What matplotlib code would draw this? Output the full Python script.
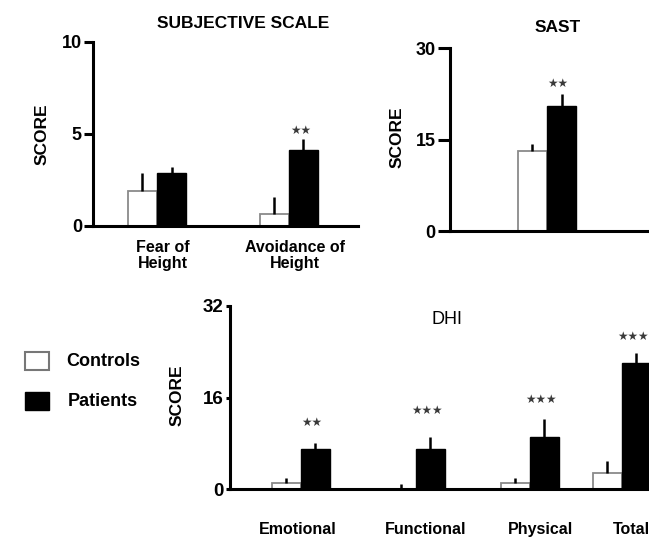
import matplotlib
matplotlib.use("Agg")
import matplotlib.pyplot as plt
from matplotlib.patches import Rectangle

plt.rcParams['font.family'] = ['Liberation Sans', 'DejaVu Sans']

# ---------------- data ----------------
subj_categories = ["Fear of\nHeight", "Avoidance of\nHeight"]
subj_controls = [1.9, 0.65]
subj_controls_err = [1.0, 0.9]
subj_patients = [2.9, 4.15]
subj_patients_err = [0.3, 0.6]
subj_stars = ["", "★★"]

sast_controls = [13.1]
sast_controls_err = [1.2]
sast_patients = [20.5]
sast_patients_err = [1.9]
sast_stars = ["★★"]

dhi_categories = ["Emotional", "Functional", "Physical", "Total"]
dhi_controls = [1.0, 0.0, 1.0, 2.8]
dhi_controls_err = [0.9, 0.9, 0.9, 2.1]
dhi_patients = [7.0, 7.0, 9.1, 22.0]
dhi_patients_err = [1.0, 2.1, 3.1, 1.8]
dhi_stars = ["★★", "★★★", "★★★", "★★★"]

# ---------------- layout ----------------
W, H = 649, 537
fig = plt.figure(figsize=(W / 100, H / 100), dpi=100)


def rect(left, right, top, bottom):
    return [left / W, 1 - bottom / H, (right - left) / W, (bottom - top) / H]


def fx(x):
    return x / W


def fy(y):
    return 1 - y / H


SPINE_W = 2.2
STAR_KW = dict(ha='center', va='center', fontsize=8.5, color='#3a3a3a',
               family=['DejaVu Sans'], clip_on=False)


def style_axes(ax, ylim, yticks, tick_len, fs=13):
    ax.set_ylim(*ylim)
    ax.set_yticks(yticks)
    ax.set_yticklabels([str(t) for t in yticks], fontsize=fs, fontweight='bold')
    for s in ['top', 'right']:
        ax.spines[s].set_visible(False)
    for s in ['left', 'bottom']:
        ax.spines[s].set_linewidth(SPINE_W)
    ax.tick_params(axis='y', direction='out', length=tick_len, width=SPINE_W, pad=1.5)
    ax.tick_params(axis='x', length=0)
    ax.patch.set_alpha(0)


def draw_bars(ax, centers, ctrl, ctrl_err, pat, pat_err, width):
    xc = [c - width / 2 for c in centers]
    xp = [c + width / 2 for c in centers]
    ax.bar(xc, ctrl, width=width, color='white', edgecolor='#8a8a8a', linewidth=1.3, zorder=2)
    ax.bar(xp, pat, width=width, color='black', edgecolor='black', linewidth=1.0, zorder=2)
    ax.errorbar(xc, ctrl, yerr=[[0] * len(ctrl), ctrl_err], fmt='none', ecolor='black',
                elinewidth=1.8, capsize=0, zorder=3)
    ax.errorbar(xp, pat, yerr=[[0] * len(pat), pat_err], fmt='none', ecolor='black',
                elinewidth=1.8, capsize=0, zorder=3)
    return xp


# ---- Panel 1: Subjective scale ----
ax1 = fig.add_axes(rect(93, 358, 42, 226))
subj_pos = [0, 1]
subj_star_y = [0, 5.2]
bw1 = 0.22
xp1 = draw_bars(ax1, subj_pos, subj_controls, subj_controls_err, subj_patients, subj_patients_err, bw1)
ax1.set_xlim(-0.485, 1.523)
style_axes(ax1, (0, 10), [0, 5, 10], 6.5)
ax1.set_xticks([p + 0.045 for p in subj_pos])
ax1.set_xticklabels(subj_categories, fontsize=11.5, fontweight='bold', linespacing=1.1)
ax1.tick_params(axis='x', pad=10)
for x, y, s in zip(xp1, subj_star_y, subj_stars):
    if s:
        ax1.text(x - 0.02, y, s, **STAR_KW)
fig.text(fx(243), fy(23), "SUBJECTIVE SCALE", ha='center', va='center',
         fontsize=12.5, fontweight='bold')
fig.text(fx(42), fy(134), "SCORE", ha='center', va='center', rotation=90,
         fontsize=12.5, fontweight='bold')

# ---- Panel 2: SAST ----
ax2 = fig.add_axes(rect(450, 649, 48, 231))
sast_pos = [0]
sast_star_y = [24.2]
bw2 = 0.22
xp2 = draw_bars(ax2, sast_pos, sast_controls, sast_controls_err, sast_patients, sast_patients_err, bw2)
ax2.set_xlim(-0.735, 0.773)
style_axes(ax2, (0, 30), [0, 15, 30], 9)
ax2.set_xticks([])
for x, y, s in zip(xp2, sast_star_y, sast_stars):
    ax2.text(x - 0.03, y, s, **STAR_KW)
fig.text(fx(558), fy(28), "SAST", ha='center', va='center', fontsize=12.5, fontweight='bold')
fig.text(fx(397), fy(137), "SCORE", ha='center', va='center', rotation=90,
         fontsize=12.5, fontweight='bold')

# ---- Panel 3: DHI ----
ax3 = fig.add_axes(rect(230, 649, 306, 489))
dhi_pos = [0, 1.0, 1.99, 2.79]
dhi_label_pos = [-0.03, 1.08, 2.08, 2.87]
dhi_star_y = [11.7, 13.8, 15.7, 26.6]
bw3 = 0.252
xp3 = draw_bars(ax3, dhi_pos, dhi_controls, dhi_controls_err, dhi_patients, dhi_patients_err, bw3)
ax3.set_xlim(-0.617, 3.026)
style_axes(ax3, (0, 32), [0, 16, 32], 3, fs=13.5)
ax3.set_xticks(dhi_label_pos)
ax3.set_xticklabels(dhi_categories, fontsize=11.5, fontweight='bold')
ax3.tick_params(axis='x', pad=24)
for x, y, s in zip(xp3, dhi_star_y, dhi_stars):
    ax3.text(x - 0.03, y, s, **STAR_KW)
fig.text(fx(447), fy(319), "DHI", ha='center', va='center', fontsize=13)
fig.text(fx(177), fy(395), "SCORE", ha='center', va='center', rotation=90,
         fontsize=12.5, fontweight='bold')

# ---- Legend ----
fig.patches.append(Rectangle((fx(25), fy(370)), 24 / W, 18 / H, transform=fig.transFigure,
                             facecolor='white', edgecolor='#777777', linewidth=1.5))
fig.patches.append(Rectangle((fx(25), fy(410)), 24 / W, 18 / H, transform=fig.transFigure,
                             facecolor='black', edgecolor='black', linewidth=1.0))
fig.text(fx(66), fy(361), "Controls", ha='left', va='center', fontsize=13, fontweight='bold')
fig.text(fx(68), fy(402), "Patients", ha='left', va='center', fontsize=13, fontweight='bold')

fig.savefig("out.png", dpi=100)
